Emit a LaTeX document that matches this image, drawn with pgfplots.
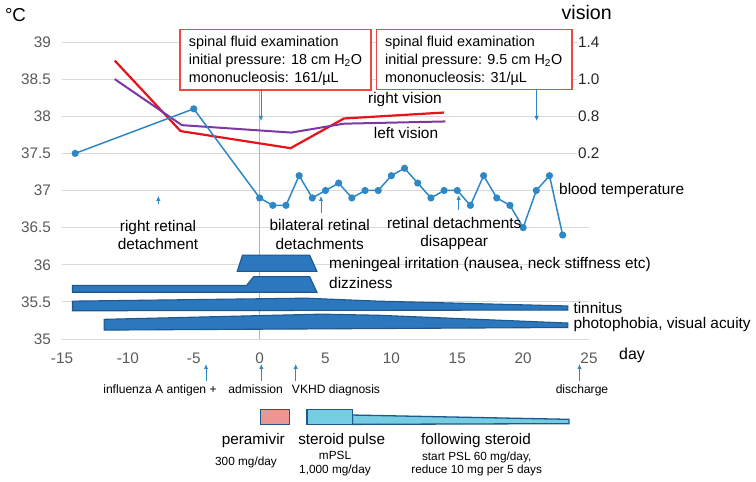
\documentclass[border=0pt]{standalone}
\usepackage{fontspec}
\setmainfont{Liberation Sans}
\usepackage{pgfplots}
\pgfplotsset{compat=1.18}
\usetikzlibrary{arrows.meta}
\definecolor{tblue}{RGB}{46,136,198}
\definecolor{sblue}{RGB}{43,120,190}
\definecolor{sborder}{RGB}{30,88,140}
\definecolor{vred}{RGB}{230,20,25}
\definecolor{vpurple}{RGB}{125,55,165}
\definecolor{boxred}{RGB}{240,70,70}
\definecolor{tickgray}{RGB}{89,89,89}
\definecolor{gridgray}{RGB}{217,217,217}
\definecolor{pinkbox}{RGB}{236,150,148}
\definecolor{cyanbox}{RGB}{117,205,225}
\newcommand\fs[2]{\fontsize{#1bp}{#2bp}\selectfont}
\begin{document}
\begin{tikzpicture}
\begin{axis}[
  at={(62bp,143bp)}, anchor=south west,
  scale only axis, width=527bp, height=297bp,
  xmin=-15, xmax=25, ymin=35, ymax=39,
  axis line style={draw=none},
  xtick={-15,-10,...,25}, ytick={35,35.5,...,39},
  major tick length=0pt,
  ymajorgrids, grid style={gridgray, line width=0.9bp},
  tick label style={font=\fs{15.3}{18}, text=tickgray},
  /pgf/number format/assume math mode=true,
  xticklabel style={anchor=center, yshift=-19bp},
  yticklabel style={anchor=east, inner sep=0pt, xshift=-11bp},
  clip=false,
]
\draw[gray!60, line width=0.9bp] (axis cs:0,35) -- (axis cs:0,39);
% symptoms
\addplot[fill=sblue, draw=sborder, line width=1.1bp] coordinates {(-1.7,35.91)(-1.3,36.13)(3.8,36.13)(4.35,35.91)} -- cycle;
\addplot[fill=sblue, draw=sborder, line width=1.1bp] coordinates {(-14.2,35.63)(-14.2,35.72)(-1.0,35.72)(-0.45,35.84)(3.8,35.84)(4.35,35.63)} -- cycle;
\addplot[fill=sblue, draw=sborder, line width=1.1bp] coordinates {(-14.2,35.38)(-14.2,35.51)(3.5,35.55)(9,35.51)(23.4,35.445)(23.4,35.39)} -- cycle;
\addplot[fill=sblue, draw=sborder, line width=1.1bp] coordinates {(-11.8,35.12)(-11.8,35.265)(4.7,35.335)(9,35.32)(23.4,35.215)(23.4,35.155)} -- cycle;
% vision
\addplot[vred, line width=2.2bp] coordinates {(-11,38.75)(-6,37.8)(2.35,37.57)(6.4,37.97)(14,38.05)};
\addplot[vpurple, line width=2bp] coordinates {(-11,38.5)(-5.9,37.88)(2.4,37.78)(6.4,37.9)(14.1,37.93)};
% blood temperature
\addplot[tblue, line width=1.5bp, mark=*, mark size=2.8bp, mark options={solid, fill=tblue, draw=tblue}] coordinates {
(-14,37.5)(-5,38.1)(0,36.9)(1,36.8)(2,36.8)(3,37.2)(4,36.9)(5,37.0)(6,37.1)(7,36.9)(8,37.0)(9,37.0)(10,37.2)(11,37.3)(12,37.1)(13,36.9)(14,37.0)(15,37.0)(16,36.8)(17,37.2)(18,36.9)(19,36.8)(20,36.5)(21,37.0)(22,37.2)(23,36.4)};
% treatments
\addplot[fill=pinkbox, draw=sborder, line width=1.3bp] coordinates {(0.05,33.85)(0.05,34.05)(2.28,34.05)(2.28,33.85)} -- cycle;
\addplot[fill=cyanbox, draw=sborder, line width=1.3bp] coordinates {(7.04,33.85)(7.04,33.976)(23.48,33.918)(23.48,33.86)} -- cycle;
\addplot[fill=cyanbox, draw=sborder, line width=1.3bp] coordinates {(3.59,33.85)(3.59,34.05)(7.04,34.05)(7.04,33.85)} -- cycle;
\end{axis}
\begin{scope}[x=1bp,y=-1bp,yshift=482bp]
  \tikzset{arr/.style={tblue, line width=0.9bp, -{Latex[length=5bp,width=4.5bp]}}}
  % titles
  \node at (15.5,15) {\fs{18.7}{22}°C};
  \node at (586.7,12.5) {\fs{19.6}{22}vision};
  \node[anchor=base] at (632,360) {\fs{15.9}{18}day};
  % right labels
  \foreach \y/\t in {42/1.4,79/1.0,116/0.8,153/0.2}
    \node[anchor=west, fill=white, inner sep=1bp, text=black!85] at (577,\y) {\fs{15.3}{18}\t};
  % boxes
  \draw[arr] (261,90) -- (261,121);
  \draw[arr] (536.7,89) -- (536.7,121);
  \draw[boxred, fill=white, line width=1.1bp] (180,29.3) rectangle (371,90);
  \draw[boxred, fill=white, line width=1.1bp] (376.7,29.3) rectangle (572,89.3);
  \foreach \xx/\pr/\mn in {188.7/18/161, 385/9.5/31}{
    \node[anchor=base west, inner sep=0pt] at (\xx,46.7) {\fs{14.4}{17}spinal fluid examination};
    \node[anchor=base west, inner sep=0pt] at (\xx,64.7) {\fs{14.4}{17}initial pressure: \pr\ cm H\textsubscript{2}O};
    \node[anchor=base west, inner sep=0pt] at (\xx,82.7) {\fs{14.4}{17}mononucleosis: \mn/µL};
  }
  % vision labels
  \node[anchor=base, inner sep=0pt] at (405,104) {\fs{15.4}{18}right vision};
  \node[anchor=base, inner sep=0pt] at (406,138.3) {\fs{15.4}{18}left vision};
  \node[anchor=base west, inner sep=0pt] at (559,194.5) {\fs{15.4}{18}blood temperature};
  % retinal annotations
  \draw[arr] (158.3,204) -- (158.3,196);
  \draw[arr] (321,213) -- (321,196);
  \draw[arr] (458.7,210) -- (458.7,195);
  \node[anchor=base, inner sep=0pt] at (158,231.5) {\fs{15.4}{18}right retinal};
  \node[anchor=base, inner sep=0pt] at (158,250) {\fs{15.4}{18}detachment};
  \node[anchor=base, inner sep=0pt] at (319.7,231) {\fs{15.4}{18}bilateral retinal};
  \node[anchor=base, inner sep=0pt] at (319.7,249.5) {\fs{15.4}{18}detachments};
  \node[anchor=base, inner sep=0pt] at (454.2,228.5) {\fs{15.4}{18}retinal detachments};
  \node[anchor=base, inner sep=0pt] at (454.2,246.5) {\fs{15.4}{18}disappear};
  % symptom labels
  \node[anchor=base west, inner sep=0pt] at (329,269) {\fs{15.4}{18}meningeal irritation (nausea, neck stiffness etc)};
  \node[anchor=base west, inner sep=0pt] at (329,289) {\fs{15.4}{18}dizziness};
  \node[anchor=base west, inner sep=0pt] at (573.3,314) {\fs{15.4}{18}tinnitus};
  \node[anchor=base west, inner sep=0pt] at (573.3,328.3) {\fs{15.4}{18}photophobia, visual acuity};
  % timeline arrows
  \foreach \xx in {206,261.3,295.7,579.5}
    \draw[arr] (\xx,381) -- (\xx,364);
  \node[anchor=base, inner sep=0pt] at (160,393.5) {\fs{12.1}{14}influenza A antigen +};
  \node[anchor=base, inner sep=0pt] at (255.7,393.5) {\fs{12.1}{14}admission};
  \node[anchor=base, inner sep=0pt] at (336,393.5) {\fs{12.1}{14}VKHD diagnosis};
  \node[anchor=base, inner sep=0pt] at (582,393.5) {\fs{12.1}{14}discharge};
  % treatment labels
  \node[anchor=base, inner sep=0pt] at (253.3,445) {\fs{15.3}{18}peramivir};
  \node[anchor=base, inner sep=0pt] at (341.7,445) {\fs{15.3}{18}steroid pulse};
  \node[anchor=base, inner sep=0pt] at (476,445) {\fs{15.3}{18}following steroid};
  \node[anchor=base, inner sep=0pt] at (246,466) {\fs{11.8}{14}300 mg/day};
  \node[anchor=base, inner sep=0pt] at (335,460) {\fs{11.8}{14}mPSL};
  \node[anchor=base, inner sep=0pt] at (335,474) {\fs{11.8}{14}1,000 mg/day};
  \node[anchor=base, inner sep=0pt] at (476.7,460.5) {\fs{11.8}{14}start PSL 60 mg/day,};
  \node[anchor=base, inner sep=0pt] at (476.7,474) {\fs{11.8}{14}reduce 10 mg per 5 days};
\end{scope}
\pgfresetboundingbox
\path[use as bounding box] (0,0) rectangle (756bp,482bp);
\end{tikzpicture}
\end{document}
